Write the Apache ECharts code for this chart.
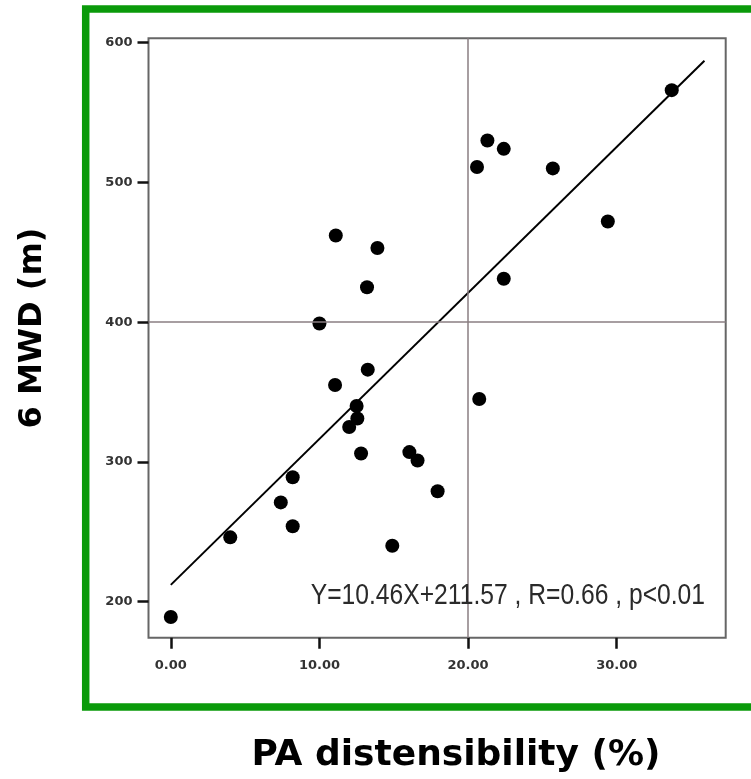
<!DOCTYPE html>
<html>
<head>
<meta charset="utf-8">
<script src="https://cdn.jsdelivr.net/npm/echarts@6/dist/echarts.min.js"></script>
<style>
html,body{margin:0;padding:0;background:#fff;}
#chart{width:751px;height:779px;}
</style>
</head>
<body>
<div id="chart"></div>
<script>
// PA distensibility (%)
var distensibility = [0.0, 4.0, 7.4, 8.2, 8.2, 10.0, 11.1, 11.05, 13.25, 12.5, 12.55, 12.0, 12.8, 16.05, 16.6, 17.95, 14.9, 20.75, 13.9, 13.2, 21.3, 22.4, 20.6, 25.7, 33.7, 29.4, 22.4];
// 6 MWD (m)
var walkDistance = [189, 246, 271, 289, 254, 399, 462, 355, 366, 340, 331, 325, 306, 307, 301, 279, 240, 345, 453, 425, 530, 524, 511, 510, 566, 472, 431];
// regression line end points
var fitX = [0, 35.9];
var fitY = [212, 587];
// reference lines
var refX = 20;
var refY = 400;
// tick labels
var xTicks = [0, 10, 20, 30];
var yTicks = [200, 300, 400, 500, 600];
var equationText = 'Y=10.46X+211.57 , R=0.66 , p<0.01';
var xTitle = 'PA distensibility (%)';
var yTitle = '6 MWD (m)';

var points = distensibility.map(function (x, i) { return [x, walkDistance[i]]; });
var fitLine = fitX.map(function (x, i) { return [x, fitY[i]]; });

var chart = echarts.init(document.getElementById('chart'), null, {renderer: 'canvas'});
chart.setOption({
  animation: false,
  backgroundColor: '#ffffff',
  grid: {
    left: 148.5, right: 25.3, top: 38.3, bottom: 141.3,
    show: true, borderColor: '#666666', borderWidth: 2, backgroundColor: 'transparent'
  },
  xAxis: {
    type: 'value', min: -1.5, max: 37.33,
    axisLine: {show: false, onZero: false},
    splitLine: {show: false},
    axisTick: {show: true, customValues: xTicks, length: 11, lineStyle: {color: '#111', width: 2.5}},
    axisLabel: {
      customValues: xTicks, margin: 21,
      formatter: function (v) { return Number(v).toFixed(2); },
      fontFamily: 'DejaVu Sans', fontWeight: 'bold', fontSize: 13, color: '#333'
    }
  },
  yAxis: {
    type: 'value', min: 174.2, max: 603.1,
    axisLine: {show: false, onZero: false},
    splitLine: {show: false},
    axisTick: {show: true, customValues: yTicks, length: 11, lineStyle: {color: '#111', width: 2.5}},
    axisLabel: {
      customValues: yTicks, margin: 16,
      fontFamily: 'DejaVu Sans', fontWeight: 'bold', fontSize: 13, color: '#333'
    }
  },
  graphic: [
    {
      type: 'rect', silent: true, z: 100,
      shape: {x: 85.7, y: 9, width: 800, height: 698},
      style: {fill: 'none', stroke: '#0a9a0a', lineWidth: 7.5}
    },
    {
      type: 'text', silent: true, z: 50,
      x: 705, y: 596, scaleX: 0.85,
      style: {text: equationText, x: 0, y: 0, align: 'right', verticalAlign: 'middle',
        font: '29px "Liberation Sans"', fill: '#2a2a2a'}
    },
    {
      type: 'text', silent: true, z: 50,
      x: 456, y: 756,
      style: {text: xTitle, align: 'center', verticalAlign: 'middle',
        font: 'bold 36px "DejaVu Sans"', fill: '#000'}
    },
    {
      type: 'text', silent: true, z: 50,
      x: 33, y: 328, rotation: Math.PI / 2,
      style: {text: yTitle, align: 'center', verticalAlign: 'middle',
        font: 'bold 32px "DejaVu Sans"', fill: '#000'}
    }
  ],
  series: [
    {
      type: 'line', data: fitLine, showSymbol: false, symbol: 'none', silent: true,
      lineStyle: {color: '#000', width: 2}, z: 3,
      markLine: {
        silent: true, symbol: 'none', label: {show: false},
        lineStyle: {color: '#8a7e82', width: 1.5, type: 'solid'},
        data: [{xAxis: refX}, {yAxis: refY}]
      }
    },
    {
      type: 'scatter', data: points, symbol: 'circle', symbolSize: 14,
      itemStyle: {color: '#000', opacity: 1}, z: 4
    }
  ]
});
</script>
</body>
</html>
